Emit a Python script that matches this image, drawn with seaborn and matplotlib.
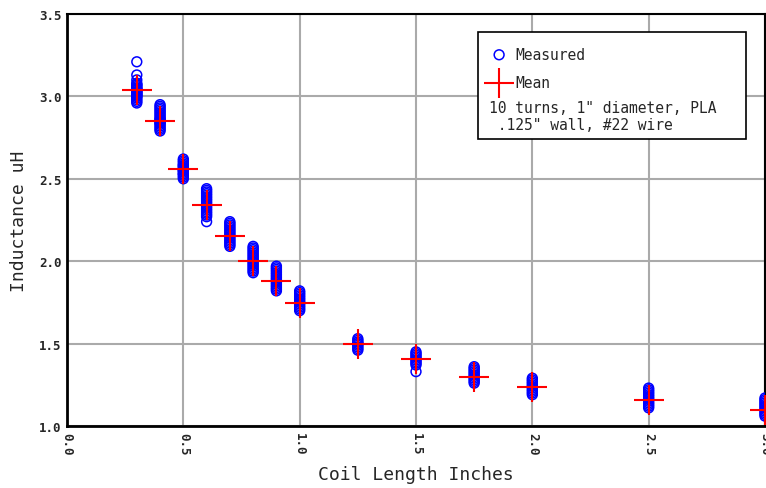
import matplotlib
matplotlib.use("Agg")
import matplotlib.pyplot as plt
from matplotlib.patches import Rectangle
import numpy as np
import pandas as pd
import seaborn as sns

# Coil lengths (inches) and the mean inductance at each length (uH)
lengths = [0.3, 0.4, 0.5, 0.6, 0.7, 0.8, 0.9, 1.0, 1.25, 1.5, 1.75, 2.0, 2.5, 3.0]
means = [3.04, 2.85, 2.56, 2.34, 2.15, 2.00, 1.88, 1.745, 1.495, 1.405, 1.295, 1.235, 1.16, 1.10]

# Individual inductance readings for each coil length (uH)
meas_030 = [3.21, 3.13, 3.10, 3.08, 3.07, 3.07, 3.06, 3.05, 3.05, 3.04, 3.04, 3.03,
            3.03, 3.02, 3.02, 3.01, 3.01, 3.00, 3.00, 2.99, 2.98, 2.97, 2.96]
meas_040 = [2.95, 2.94, 2.93, 2.92, 2.91, 2.90, 2.89, 2.88, 2.87, 2.86, 2.86, 2.85,
            2.84, 2.84, 2.83, 2.82, 2.81, 2.80, 2.79]
meas_050 = [2.62, 2.61, 2.60, 2.59, 2.58, 2.58, 2.57, 2.56, 2.56, 2.55, 2.55, 2.54,
            2.53, 2.53, 2.52, 2.51, 2.50]
meas_060 = [2.44, 2.43, 2.42, 2.41, 2.40, 2.39, 2.38, 2.37, 2.36, 2.35, 2.34, 2.33,
            2.32, 2.31, 2.30, 2.29, 2.28, 2.27, 2.24]
meas_070 = [2.24, 2.23, 2.22, 2.21, 2.20, 2.19, 2.18, 2.17, 2.16, 2.15, 2.14, 2.13,
            2.12, 2.11, 2.10, 2.09]
meas_080 = [2.09, 2.08, 2.07, 2.06, 2.05, 2.04, 2.03, 2.02, 2.01, 2.00, 1.99, 1.98,
            1.97, 1.96, 1.95, 1.94, 1.93]
meas_090 = [1.97, 1.96, 1.95, 1.94, 1.93, 1.92, 1.91, 1.90, 1.89, 1.88, 1.87, 1.86,
            1.85, 1.84, 1.83, 1.82]
meas_100 = [1.82, 1.81, 1.80, 1.79, 1.78, 1.77, 1.76, 1.75, 1.74, 1.73, 1.72, 1.71, 1.70]
meas_125 = [1.53, 1.52, 1.51, 1.50, 1.50, 1.49, 1.48, 1.47, 1.46]
meas_150 = [1.45, 1.44, 1.43, 1.42, 1.41, 1.40, 1.39, 1.38, 1.37, 1.33]
meas_175 = [1.36, 1.35, 1.34, 1.33, 1.32, 1.31, 1.30, 1.29, 1.28, 1.27, 1.26]
meas_200 = [1.29, 1.28, 1.27, 1.26, 1.25, 1.24, 1.23, 1.22, 1.21, 1.20, 1.19]
meas_250 = [1.23, 1.22, 1.21, 1.20, 1.19, 1.18, 1.17, 1.16, 1.15, 1.14, 1.13, 1.12, 1.11]
meas_300 = [1.17, 1.16, 1.15, 1.14, 1.13, 1.12, 1.11, 1.10, 1.09, 1.08, 1.07, 1.06]

measured = [meas_030, meas_040, meas_050, meas_060, meas_070, meas_080, meas_090,
            meas_100, meas_125, meas_150, meas_175, meas_200, meas_250, meas_300]

x_ticks = [0.0, 0.5, 1.0, 1.5, 2.0, 2.5, 3.0]
y_ticks = [1.0, 1.5, 2.0, 2.5, 3.0, 3.5]

df_meas = pd.DataFrame(
    [(L, v) for L, vals in zip(lengths, measured) for v in vals],
    columns=["length", "inductance"],
)
df_mean = pd.DataFrame({"length": lengths, "inductance": means})

sns.set_theme(style="white")
plt.rcParams["font.family"] = ["DejaVu Sans Mono"]

fig = plt.figure(figsize=(7.66, 4.89), dpi=100)
ax = fig.add_axes([67 / 766, 1 - 427 / 489, 698 / 766, 412 / 489])

sns.scatterplot(data=df_meas, x="length", y="inductance", ax=ax,
                marker="o", s=50, facecolors="none", edgecolors="#0000ff",
                linewidths=1.1, label="Measured", zorder=3)
sns.scatterplot(data=df_mean, x="length", y="inductance", ax=ax,
                marker="+", s=480, color="#ff0000", linewidths=1.5,
                label="Mean", zorder=4)

ax.set_xlim(0.0, 3.0)
ax.set_ylim(1.0, 3.5)
ax.set_xticks(x_ticks)
ax.set_yticks(y_ticks)
ax.set_xticklabels([f"{t:.1f}" for t in x_ticks], rotation=-90,
                   fontsize=9, fontweight="bold")
ax.set_yticklabels([f"{t:.1f}" for t in y_ticks], fontsize=9, fontweight="bold")
ax.tick_params(axis="both", direction="in", length=6, width=1.5, color="#000000",
               pad=4)

ax.grid(True, color="#aaaaaa", linewidth=1.5)
ax.set_axisbelow(True)
for side in ["left", "bottom", "top", "right"]:
    ax.spines[side].set_color("#000000")
    ax.spines[side].set_linewidth(1.5)
ax.spines["left"].set_linewidth(2)
ax.spines["bottom"].set_linewidth(2)

ax.set_xlabel("Coil Length Inches", fontsize=13, labelpad=8)
ax.set_ylabel("Inductance uH", fontsize=13, labelpad=8)

# Legend box with a note about the coil construction
ax.add_patch(Rectangle((0.589, 0.697), 0.384, 0.259, transform=ax.transAxes,
                       facecolor="white", edgecolor="#000000", linewidth=1.2,
                       zorder=5))
leg = ax.legend(loc="upper left", bbox_to_anchor=(0.594, 0.935), frameon=False,
                fontsize=10.5, handletextpad=0.3, borderaxespad=0.0,
                labelspacing=0.9, handlelength=1.6)
leg.set_zorder(6)
handles = leg.legend_handles
handles[0].set_sizes([50])
handles[1].set_sizes([480])
ax.text(0.604, 0.772, "10 turns, 1\" diameter, PLA", transform=ax.transAxes,
        fontsize=10.5, va="center", ha="left", zorder=6)
ax.text(0.604, 0.731, " .125\" wall, #22 wire", transform=ax.transAxes,
        fontsize=10.5, va="center", ha="left", zorder=6)

fig.savefig("out.png", dpi=100)
